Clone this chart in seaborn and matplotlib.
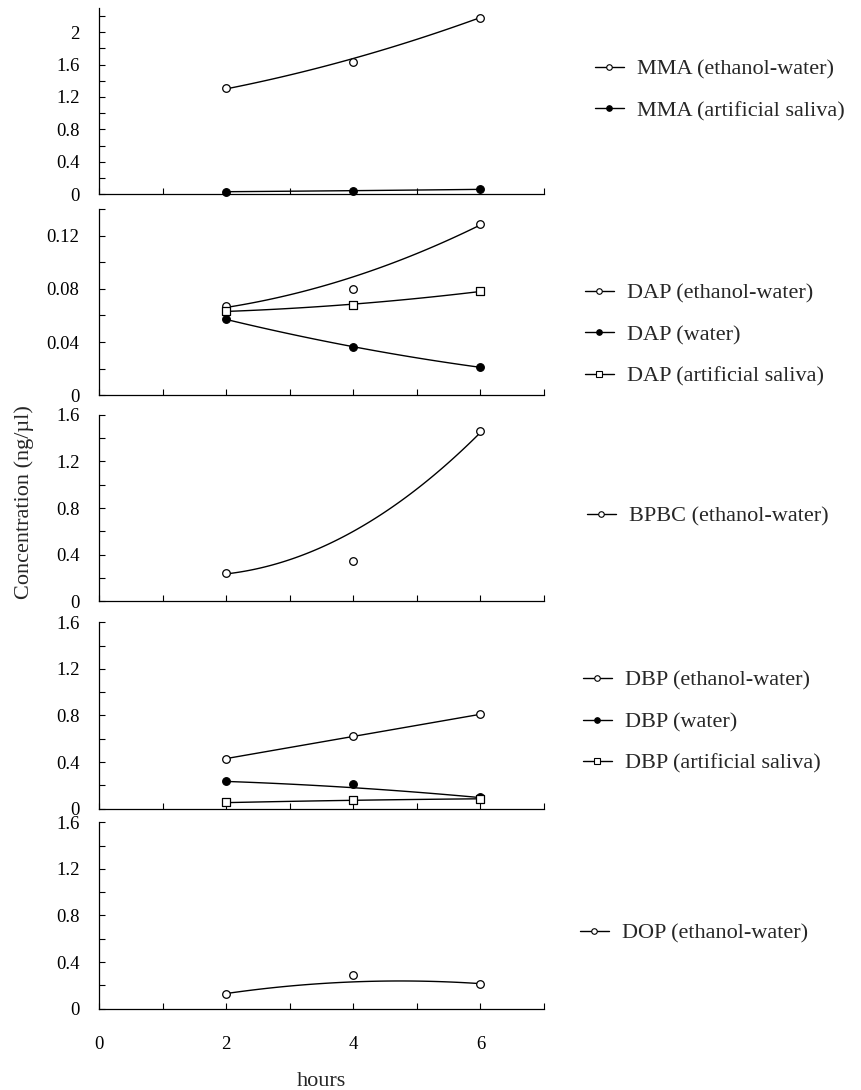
import numpy as np
import pandas as pd
import matplotlib
matplotlib.use("Agg")
import matplotlib.pyplot as plt
from matplotlib.lines import Line2D
from matplotlib.ticker import FuncFormatter
import seaborn as sns

sns.set_theme(style="ticks")
plt.rcParams['font.family'] = ['Liberation Serif', 'DejaVu Serif']

# ---------------- data ----------------
hours = [2, 4, 6]

mma_ethanol_water = [1.31, 1.63, 2.18]
mma_ethanol_water_trend = [1.30, 1.675, 2.18]
mma_artificial_saliva = [0.03, 0.04, 0.06]
mma_artificial_saliva_trend = [0.032, 0.045, 0.061]

dap_ethanol_water = [0.067, 0.080, 0.129]
dap_ethanol_water_trend = [0.066, 0.089, 0.128]
dap_water = [0.057, 0.036, 0.021]
dap_water_trend = [0.057, 0.0365, 0.021]
dap_artificial_saliva = [0.063, 0.068, 0.078]
dap_artificial_saliva_trend = [0.063, 0.0685, 0.078]

bpbc_ethanol_water = [0.24, 0.35, 1.46]
bpbc_ethanol_water_trend = [0.235, 0.60, 1.448]

dbp_ethanol_water = [0.43, 0.62, 0.815]
dbp_ethanol_water_trend = [0.43, 0.62, 0.81]
dbp_water = [0.24, 0.21, 0.10]
dbp_water_trend = [0.234, 0.18, 0.095]
dbp_artificial_saliva = [0.055, 0.074, 0.086]
dbp_artificial_saliva_trend = [0.052, 0.072, 0.085]

dop_ethanol_water = [0.13, 0.29, 0.215]
dop_ethanol_water_trend = [0.13, 0.23, 0.215]

x_ticks_major = [0, 2, 4, 6]
x_ticks_minor = [1, 3, 5, 7]
x_label = "hours"
y_label = "Concentration (ng/µl)"

# marker styles: (marker, facecolor)
OPEN_CIRCLE = ("o", "white")
FILLED_CIRCLE = ("o", "black")
OPEN_SQUARE = ("s", "white")

panels = [
    dict(series=[("MMA (ethanol-water)", mma_ethanol_water, mma_ethanol_water_trend, OPEN_CIRCLE),
                 ("MMA (artificial saliva)", mma_artificial_saliva, mma_artificial_saliva_trend, FILLED_CIRCLE)],
         ylim=2.3, major=np.arange(0, 2.01, 0.4), minor=np.arange(0, 2.21, 0.2),
         bottom_px=194.3, legend=(595, 90)),
    dict(series=[("DAP (ethanol-water)", dap_ethanol_water, dap_ethanol_water_trend, OPEN_CIRCLE),
                 ("DAP (water)", dap_water, dap_water_trend, FILLED_CIRCLE),
                 ("DAP (artificial saliva)", dap_artificial_saliva, dap_artificial_saliva_trend, OPEN_SQUARE)],
         ylim=0.1401, major=np.arange(0, 0.121, 0.04), minor=np.arange(0, 0.1401, 0.02),
         bottom_px=395.3, legend=(585, 335)),
    dict(series=[("BPBC (ethanol-water)", bpbc_ethanol_water, bpbc_ethanol_water_trend, OPEN_CIRCLE)],
         ylim=1.6, major=np.arange(0, 1.61, 0.4), minor=np.arange(0, 1.61, 0.2),
         bottom_px=601.3, legend=(587, 516)),
    dict(series=[("DBP (ethanol-water)", dbp_ethanol_water, dbp_ethanol_water_trend, OPEN_CIRCLE),
                 ("DBP (water)", dbp_water, dbp_water_trend, FILLED_CIRCLE),
                 ("DBP (artificial saliva)", dbp_artificial_saliva, dbp_artificial_saliva_trend, OPEN_SQUARE)],
         ylim=1.6, major=np.arange(0, 1.61, 0.4), minor=np.arange(0, 1.61, 0.2),
         bottom_px=808.7, legend=(583, 722)),
    dict(series=[("DOP (ethanol-water)", dop_ethanol_water, dop_ethanol_water_trend, OPEN_CIRCLE)],
         ylim=1.6, major=np.arange(0, 1.61, 0.4), minor=np.arange(0, 1.61, 0.2),
         bottom_px=1008.7, legend=(580, 933)),
]

W, H = 861, 1090
fig = plt.figure(figsize=(W / 100, H / 100), dpi=100)

ax_left_px, ax_right_px = 99, 544
panel_h_px = 186.5

fmt = FuncFormatter(lambda v, p: f"{v:g}")

for i, pnl in enumerate(panels):
    bottom = 1 - pnl["bottom_px"] / H
    ax = fig.add_axes([ax_left_px / W, bottom, (ax_right_px - ax_left_px) / W, panel_h_px / H])
    handles, labels = [], []
    for name, pts, trend, (mk, fc) in pnl["series"]:
        df_t = pd.DataFrame({"hours": hours, "value": trend})
        sns.regplot(data=df_t, x="hours", y="value", order=2, ci=None, scatter=False,
                    truncate=True, ax=ax, line_kws=dict(color="black", lw=1.0, zorder=2))
        df_p = pd.DataFrame({"hours": hours, "value": pts})
        sns.scatterplot(data=df_p, x="hours", y="value", marker=mk, s=30 if mk == "o" else 34,
                        color=fc, edgecolor="black", linewidth=0.9, ax=ax, zorder=4,
                        clip_on=False, legend=False)
        handles.append(Line2D([], [], color="black", lw=1.0, marker=mk, markersize=4.0 if mk == "o" else 4.4,
                              markerfacecolor=fc, markeredgecolor="black", markeredgewidth=0.8))
        labels.append(name)

    ax.set_xlim(0, 7)
    ax.set_ylim(0, pnl["ylim"])
    ax.set_xticks(x_ticks_major)
    ax.set_xticks(x_ticks_minor, minor=True)
    ax.set_yticks(pnl["major"])
    ax.set_yticks(pnl["minor"], minor=True)
    ax.yaxis.set_major_formatter(fmt)
    ax.set_xlabel("")
    ax.set_ylabel("")
    for s in ("top", "right"):
        ax.spines[s].set_visible(False)
    for s in ("left", "bottom"):
        ax.spines[s].set_color("black")
        ax.spines[s].set_linewidth(0.9)
    ax.tick_params(axis="both", which="both", direction="in", length=4.5, width=0.8,
                   color="black", labelsize=13.5, labelcolor="black")
    ax.tick_params(axis="y", which="both", pad=14)
    ax.tick_params(axis="x", which="both", pad=20)
    if i < len(panels) - 1:
        ax.tick_params(axis="x", labelbottom=False)
    ax.set_facecolor("white")

    lx, ly = pnl["legend"]
    ax.legend(handles, labels, loc="center left", bbox_to_anchor=(lx / W, 1 - ly / H),
              bbox_transform=fig.transFigure, frameon=False, borderpad=0, borderaxespad=0,
              handlelength=1.3, handletextpad=0.6, labelspacing=0.95, fontsize=16, numpoints=1)

fig.text(321 / W, 1 - 1082 / H, x_label, ha="center", va="center", fontsize=16)
fig.text(24 / W, 1 - 502 / H, y_label, ha="center", va="center", rotation=90, fontsize=16)

fig.savefig("out.png", dpi=100, facecolor="white")
